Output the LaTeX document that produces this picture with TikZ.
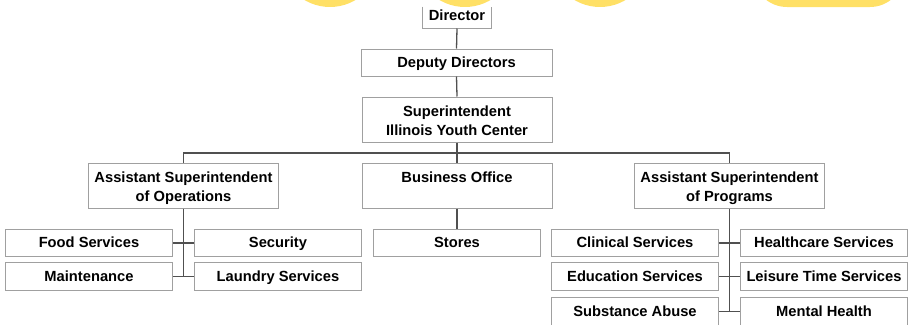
\documentclass[tikz,border=0pt]{standalone}
\usepackage{fontspec}
\setmainfont{Liberation Sans}
\definecolor{blob}{HTML}{FFE066}
\definecolor{boxline}{HTML}{A0A0A0}
\definecolor{linkline}{HTML}{505050}
\begin{document}
\begin{tikzpicture}[x=1pt,y=-1pt,
  orgbox/.style={draw=boxline,line width=1pt,fill=white,inner sep=0pt,
    align=center,font=\bfseries\fontsize{14.7}{18.5}\selectfont},
  oneline/.style={orgbox,text height=9.2pt,text depth=0pt},
  wide/.style={orgbox,minimum width=190pt,minimum height=45pt,
    text height=31.2pt,text depth=0pt},
  unit/.style={oneline,minimum width=167pt,minimum height=27.5pt},
  link/.style={draw=linkline,line width=1.3pt}]
\useasboundingbox (0,0) rectangle (912,324);
\clip (0,0) rectangle (912,324);

% decorative shapes along the top edge
\fill[blob] (330,-43) circle (50);
\fill[blob] (465,-43) circle (50);
\fill[blob] (600,-43) circle (50);
\fill[blob,rounded corners=34pt] (753,-60) rectangle (904,7);

% management chain
\node[orgbox,draw=none,minimum width=68pt,minimum height=21pt,
  text height=10.2pt,text depth=4.4pt] (dir) at (457,17.5) {Director};
\draw[draw=boxline,line width=1pt] (dir.north west) -- (dir.south west) -- (dir.south east) -- (dir.north east);
\node[oneline,minimum width=191pt,minimum height=27pt] (dep) at (456.5,62.5) {Deputy Directors};
\node[wide] (sup) at (457,119.5) {Superintendent\\Illinois Youth Center};

% second level
\node[wide] (ops) at (183.5,185.5) {Assistant Superintendent\\of Operations};
\node[wide] (bus) at (457,185.5) {Business Office\\\phantom{g}};
\node[wide] (prg) at (729.5,185.5) {Assistant Superintendent\\of Programs};

% operations units
\node[unit] (food) at (89,243) {Food Services};
\node[unit] (sec) at (278,243) {Security};
\node[unit] (mnt) at (89,276.5) {Maintenance};
\node[unit] (lau) at (278,276.5) {Laundry Services};

% business unit
\node[unit] (sto) at (457,243) {Stores};

% program units
\node[unit] (cli) at (635,243) {Clinical Services};
\node[unit] (hea) at (824,243) {Healthcare Services};
\node[unit] (edu) at (635,276.5) {Education Services};
\node[unit] (lei) at (824,276.5) {Leisure Time Services};
\node[unit] (sub) at (635,311.5) {Substance Abuse};
\node[unit] (men) at (824,311.5) {Mental Health};

% connectors
\draw[link] (dir.south) -- (dep.north);
\draw[link] (dep.south) -- (sup.north);
\draw[link] (sup.south) -- (bus.north);
\coordinate (bar) at (457,153);
\draw[link] (ops.north) |- (bar) -| (prg.north);
\draw[link] (bus.south) -- (sto.north);

\draw[link] (ops.south) -- (ops.south |- mnt.east);
\draw[link] (food.east) -- (sec.west);
\draw[link] (mnt.east) -- (lau.west);

\draw[link] (prg.south) -- (prg.south |- sub.east);
\draw[link] (cli.east) -- (hea.west);
\draw[link] (edu.east) -- (lei.west);
\draw[link] (sub.east) -- (men.west);
\end{tikzpicture}
\end{document}
